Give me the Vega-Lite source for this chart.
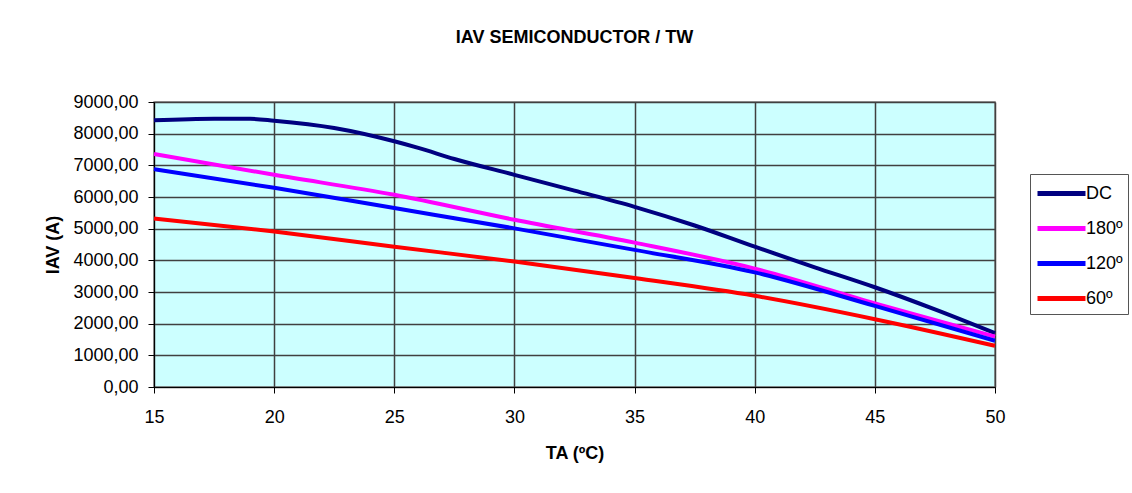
{
  "$schema": "https://vega.github.io/schema/vega-lite/v6.json",
  "width": 841,
  "height": 285,
  "autosize": {"type": "none"},
  "padding": {"left": 154, "top": 102, "right": 137, "bottom": 106},
  "background": "white",
  "config": {
    "locale": {"number": {"decimal": ",", "thousands": ".", "grouping": [3], "currency": ["", " €"]}},
    "font": "Liberation Sans",
    "view": {"fill": "#CCFFFF", "stroke": "#808080", "strokeWidth": 1.5}
  },
  "title": {
    "text": "IAV SEMICONDUCTOR / TW",
    "fontSize": 18,
    "fontWeight": "bold",
    "font": "Liberation Sans",
    "anchor": "middle",
    "offset": 46,
    "color": "#000000"
  },
  "data": {
    "values": [
      {"T": 15, "I": 8420, "s": "DC"},
      {"T": 17.5, "I": 8470, "s": "DC"},
      {"T": 19, "I": 8470, "s": "DC"},
      {"T": 20, "I": 8410, "s": "DC"},
      {"T": 22.5, "I": 8180, "s": "DC"},
      {"T": 25, "I": 7760, "s": "DC"},
      {"T": 26, "I": 7550, "s": "DC"},
      {"T": 27.5, "I": 7200, "s": "DC"},
      {"T": 30, "I": 6700, "s": "DC"},
      {"T": 32.5, "I": 6200, "s": "DC"},
      {"T": 35, "I": 5690, "s": "DC"},
      {"T": 37.5, "I": 5100, "s": "DC"},
      {"T": 40, "I": 4430, "s": "DC"},
      {"T": 42.5, "I": 3780, "s": "DC"},
      {"T": 45, "I": 3150, "s": "DC"},
      {"T": 47.5, "I": 2450, "s": "DC"},
      {"T": 50, "I": 1700, "s": "DC"},
      {"T": 15, "I": 7360, "s": "180º"},
      {"T": 20, "I": 6700, "s": "180º"},
      {"T": 25, "I": 6070, "s": "180º"},
      {"T": 30, "I": 5280, "s": "180º"},
      {"T": 35, "I": 4560, "s": "180º"},
      {"T": 40, "I": 3740, "s": "180º"},
      {"T": 45, "I": 2640, "s": "180º"},
      {"T": 50, "I": 1590, "s": "180º"},
      {"T": 15, "I": 6880, "s": "120º"},
      {"T": 20, "I": 6290, "s": "120º"},
      {"T": 25, "I": 5650, "s": "120º"},
      {"T": 30, "I": 5010, "s": "120º"},
      {"T": 35, "I": 4330, "s": "120º"},
      {"T": 40, "I": 3620, "s": "120º"},
      {"T": 45, "I": 2560, "s": "120º"},
      {"T": 50, "I": 1460, "s": "120º"},
      {"T": 15, "I": 5320, "s": "60º"},
      {"T": 20, "I": 4910, "s": "60º"},
      {"T": 25, "I": 4430, "s": "60º"},
      {"T": 30, "I": 3960, "s": "60º"},
      {"T": 35, "I": 3440, "s": "60º"},
      {"T": 40, "I": 2880, "s": "60º"},
      {"T": 45, "I": 2140, "s": "60º"},
      {"T": 50, "I": 1300, "s": "60º"}
    ]
  },
  "mark": {"type": "line", "strokeWidth": 4, "interpolate": "monotone"},
  "encoding": {
    "x": {
      "field": "T",
      "type": "quantitative",
      "scale": {"domain": [15, 50], "nice": false, "zero": false},
      "axis": {
        "values": [15, 20, 25, 30, 35, 40, 45, 50],
        "title": "TA (ºC)",
        "titleFontSize": 18,
        "titleFontWeight": "bold",
        "titleColor": "#000000",
        "titlePadding": 18,
        "labelFontSize": 18,
        "labelColor": "#000000",
        "labelPadding": 15,
        "labelFlush": false,
        "tickSize": 6,
        "tickColor": "#000000",
        "domainColor": "#000000",
        "grid": true,
        "gridColor": "#404040",
        "gridWidth": 1.5
      }
    },
    "y": {
      "field": "I",
      "type": "quantitative",
      "scale": {"domain": [0, 9000], "nice": false},
      "axis": {
        "values": [0, 1000, 2000, 3000, 4000, 5000, 6000, 7000, 8000, 9000],
        "format": ".2f",
        "title": "IAV (A)",
        "titleFontSize": 18,
        "titleFontWeight": "bold",
        "titleColor": "#000000",
        "titlePadding": 10,
        "labelFontSize": 18,
        "labelColor": "#000000",
        "labelPadding": 10,
        "labelFlush": false,
        "tickSize": 6,
        "tickColor": "#000000",
        "domainColor": "#000000",
        "grid": true,
        "gridColor": "#404040",
        "gridWidth": 1.5
      }
    },
    "color": {
      "field": "s",
      "type": "nominal",
      "scale": {"domain": ["DC", "180º", "120º", "60º"], "range": ["#000080", "#FF00FF", "#0000FF", "#FF0000"]},
      "legend": {
        "title": null,
        "orient": "none",
        "legendX": 876,
        "legendY": 72,
        "symbolType": "M-1,0H3",
        "symbolSize": 576,
        "symbolStrokeWidth": 5,
        "labelFontSize": 18,
        "labelColor": "#000000",
        "labelOffset": 22,
        "labelLimit": 0,
        "strokeColor": "#555555",
        "fillColor": "white",
        "padding": 5,
        "rowPadding": 10
      }
    }
  }
}
